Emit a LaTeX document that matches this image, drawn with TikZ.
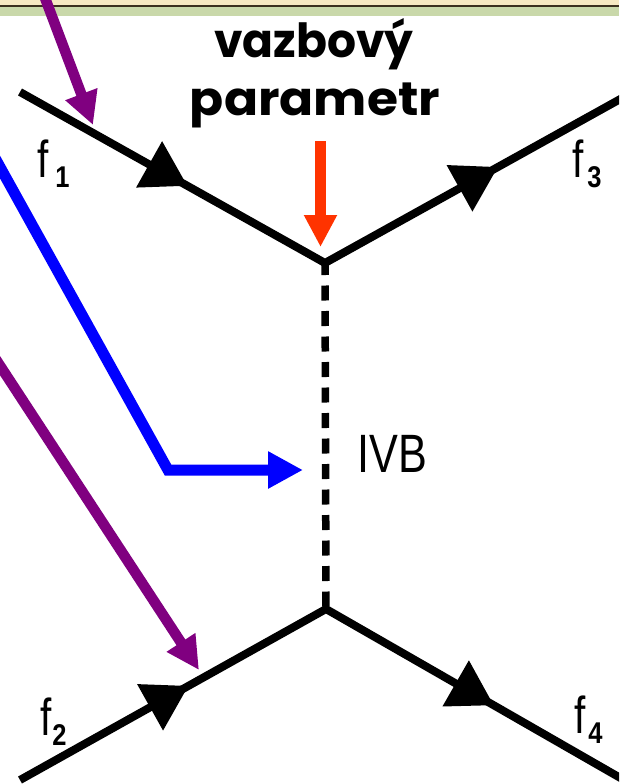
\documentclass[tikz,border=0pt]{standalone}
\usepackage{fontspec}
\setmainfont{Liberation Sans}
\newfontfamily\titlefont{Poppins}
\usetikzlibrary{arrows.meta,decorations.markings}
\definecolor{cream}{HTML}{F6E8C2}
\definecolor{darkline}{HTML}{3B2F1E}
\definecolor{sage}{HTML}{C9D8AA}
\definecolor{purp}{HTML}{800080}
\definecolor{redor}{HTML}{FF3300}
\definecolor{bluearr}{HTML}{0000FF}
\newcommand{\flab}[2]{\scalebox{0.78}[1]{\fontsize{52}{52}\selectfont f}\kern#2pt\raisebox{-10pt}{\scalebox{0.85}[1]{\bfseries\fontsize{30}{30}\selectfont #1}}}
\begin{document}
\begin{tikzpicture}[x=1pt,y=-1pt,
  fline/.style={line width=8pt, line join=miter},
  fmarks/.style 2 args={postaction={decorate,decoration={markings,
      mark=at position #1 with {\arrow{Triangle[length=44pt,width=51pt]}},
      mark=at position #2 with {\arrow{Triangle[length=44pt,width=51pt]}}}}},
  ivbline/.style={line width=7.5pt, dash pattern=on 15pt off 10.5pt, dash phase=3pt},
  pointer/.style={line width=#1},
  title/.style={font=\titlefont\bfseries\fontsize{47}{47}\selectfont, inner sep=0pt, anchor=base},
  lab/.style={inner sep=0pt, anchor=base west}
]
\useasboundingbox (0,0) rectangle (619,784);
\clip (0,0) rectangle (619,784);
\fill[white] (0,0) rectangle (619,784);
% top strip
\fill[cream] (0,0) rectangle (619,5);
\fill[darkline] (0,5) rectangle (619,7.5);
\fill[sage] (0,7.5) rectangle (619,16.5);

% fermion lines
\coordinate (a1) at (20,92);
\coordinate (v1) at (325,263);
\coordinate (a3) at (624,97);
\coordinate (a2) at (20,780);
\coordinate (v2) at (326,609);
\coordinate (a4) at (624,780);

\draw[fline, fmarks={192pt}{547.5pt}] (a1) -- (v1) -- (a3);
\draw[fline, fmarks={193pt}{544pt}] (a2) -- (v2) -- (a4);
\draw[ivbline] (v1) -- (v2);

% labels
\node[lab] (f1) at (37,177) {\flab{1}{7}};
\node[lab] (f3) at (572,177) {\flab{3}{4}};
\node[lab] (f2) at (40,735) {\flab{2}{1}};
\node[lab] (f4) at (574,733) {\flab{4}{3}};
\node[lab] (ivb) at (357,472) {\scalebox{0.8}[1]{\fontsize{54}{54}\selectfont IVB}};

% title
\node[title] (t1) at (314,57) {\scalebox{0.97}[1]{vazbový}};
\node[title] (t2) at (315,115) {\scalebox{1.07}[1]{parametr}};

% pointers
\coordinate (rtop) at (320.5,141);
\coordinate (rtip) at (320.5,247);
\draw[pointer=11pt, redor, -{Triangle[length=32pt,width=31pt]}] (rtop) -- (rtip);

\coordinate (bstart) at (-5,158);
\coordinate (bcorner) at (168,470);
\coordinate (btip) at (303,470);
\draw[pointer=11pt, bluearr, -{Triangle[length=35pt,width=35pt]}] (bstart) -- (bcorner) -- (btip);

\coordinate (p1start) at (42,-10);
\coordinate (p1tip) at (93,125);
\draw[pointer=10.5pt, purp, -{Triangle[length=33pt,width=32pt]}] (p1start) -- (p1tip);

\coordinate (p2start) at (-5,358);
\coordinate (p2tip) at (199,670);
\draw[pointer=10.5pt, purp, -{Triangle[length=33pt,width=32pt]}] (p2start) -- (p2tip);
\end{tikzpicture}
\end{document}
